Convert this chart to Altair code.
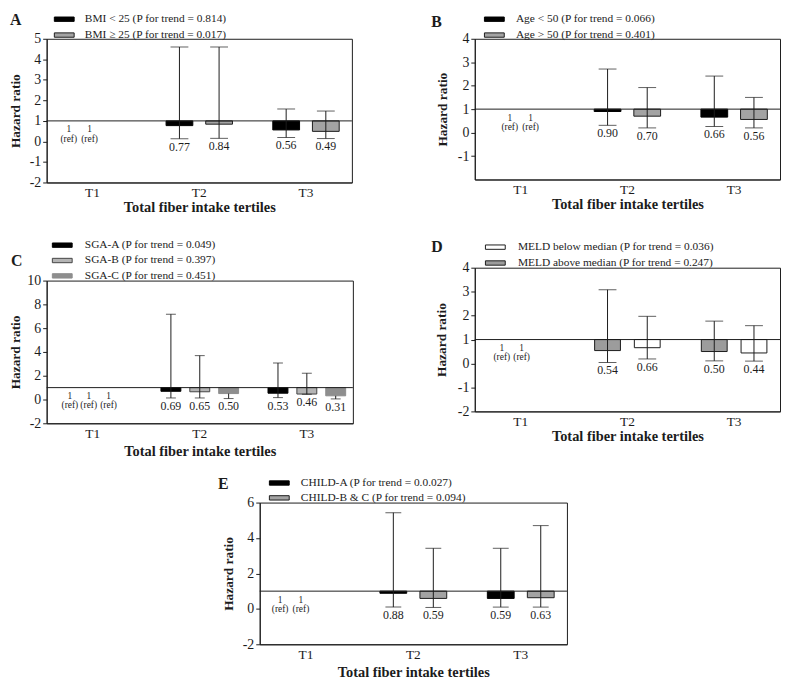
import altair as alt
import pandas as pd

TERTILES = ["T1", "T2", "T3"]

# ---------------- Panel A : BMI ----------------
A_series = ["BMI < 25 (P for trend = 0.814)", "BMI \u2265 25 (P for trend = 0.017)"]
A_hr_t2 = [0.77, 0.84]
A_hr_t3 = [0.56, 0.49]
A_lo_t2 = [0.13, 0.15]
A_lo_t3 = [0.19, 0.14]
A_hi_t2 = [4.60, 4.60]
A_hi_t3 = [1.58, 1.48]

# ---------------- Panel B : Age ----------------
B_series = ["Age < 50 (P for trend = 0.066)", "Age > 50 (P for trend = 0.401)"]
B_hr_t2 = [0.90, 0.70]
B_hr_t3 = [0.66, 0.56]
B_lo_t2 = [0.31, 0.20]
B_lo_t3 = [0.26, 0.20]
B_hi_t2 = [2.71, 1.92]
B_hi_t3 = [2.41, 1.50]

# ---------------- Panel C : SGA ----------------
C_series = ["SGA-A (P for trend = 0.049)", "SGA-B (P for trend = 0.397)", "SGA-C (P for trend = 0.451)"]
C_hr_t2 = [0.69, 0.65, 0.50]
C_hr_t3 = [0.53, 0.46, 0.31]
C_lo_t2 = [0.13, 0.13, 0.08]
C_lo_t3 = [0.16, 0.44, 0.05]
C_hi_t2 = [7.17, 3.69, 0.50]
C_hi_t3 = [3.07, 2.21, 0.31]

# ---------------- Panel D : MELD ----------------
D_series = ["MELD below median (P for trend = 0.036)", "MELD above median (P for trend = 0.247)"]
D_bar_order = ["MELD above median (P for trend = 0.247)", "MELD below median (P for trend = 0.036)"]
D_hr_t2 = [0.66, 0.54]
D_hr_t3 = [0.44, 0.50]
D_lo_t2 = [0.19, 0.04]
D_lo_t3 = [0.10, 0.11]
D_hi_t2 = [1.97, 3.08]
D_hi_t3 = [1.58, 1.77]

# ---------------- Panel E : CHILD ----------------
E_series = ["CHILD-A (P for trend = 0.0.027)", "CHILD-B & C (P for trend = 0.094)"]
E_hr_t2 = [0.88, 0.59]
E_hr_t3 = [0.59, 0.63]
E_lo_t2 = [0.10, 0.08]
E_lo_t3 = [0.10, 0.10]
E_hi_t2 = [5.43, 3.42]
E_hi_t3 = [3.42, 4.70]

FONT = "Liberation Serif"
INK = "#1c1c1c"
GRAY = "#a3a3a3"
SWATCH = "M-2,-0.44L2,-0.44L2,0.44L-2,0.44Z"
ONE = pd.DataFrame({"k": [0]})


def build_df(series, hr2, hr3, lo2, lo3, hi2, hi3):
    rows = []
    for i, s in enumerate(series):
        rows.append(dict(series=s, tertile="T2", hr=hr2[i], lo=lo2[i], hi=hi2[i]))
        rows.append(dict(series=s, tertile="T3", hr=hr3[i], lo=lo3[i], hi=hi3[i]))
    return pd.DataFrame(rows)


def panel(letter, series, bar_order, fills, strokes, data, ydom, yvals, lay):
    df = build_df(series, *data)
    w, h = lay["w"], lay["h"]
    x_scale = alt.Scale(domain=TERTILES, paddingInner=0.14, paddingOuter=0)
    x_axis = alt.Axis(title="Total fiber intake tertiles", labelAngle=0, ticks=False, tickSize=0,
                      labelPadding=3, labelFont=FONT, labelFontSize=13.5, labelColor=INK,
                      titleFont=FONT, titleFontSize=14.5, titleFontWeight="bold", titleColor=INK,
                      titleX=w / 2, titleY=lay["xt"], titleAlign="center", titleBaseline="middle",
                      domainColor=INK, grid=False)
    y_scale = alt.Scale(domain=ydom, nice=False, zero=False)
    y_axis = alt.Axis(values=yvals, title="Hazard ratio", tickSize=4, tickColor=INK, labelPadding=2,
                      labelFont=FONT, labelFontSize=14, labelColor=INK, labelExpr="'' + datum.value",
                      titleFont=FONT, titleFontSize=13.5, titleFontWeight="bold", titleColor=INK,
                      titleAngle=-90, titleX=lay["yt"], titleY=h / 2, titleAlign="center",
                      titleBaseline="middle", domainColor=INK, grid=False)

    def X():
        return alt.X("tertile:N", scale=x_scale, axis=x_axis)

    def XO():
        return alt.XOffset("series:N", scale=alt.Scale(domain=bar_order, paddingInner=lay["pi"],
                                                       paddingOuter=lay["po"]))

    def Y(field):
        return alt.Y(field, type="quantitative", scale=y_scale, axis=y_axis)

    legend = alt.Legend(title=None, orient="none", legendX=lay["lx"], legendY=lay["ly"],
                        direction="vertical", symbolType=SWATCH, symbolSize=100,
                        symbolStrokeWidth=1, symbolOpacity=1, labelFont=FONT, labelFontSize=11.5,
                        labelColor=INK, labelOffset=lay["lo"], labelLimit=400, rowPadding=lay["rp"],
                        padding=0)

    base = alt.Chart(df)
    bars = base.mark_bar(strokeWidth=1).encode(
        x=X(), xOffset=XO(), y=Y("hr"), y2=alt.datum(1),
        color=alt.Color("series:N", scale=alt.Scale(domain=series, range=fills), legend=legend),
        stroke=alt.Stroke("series:N", scale=alt.Scale(domain=series, range=strokes), legend=legend),
    )
    whisk = base.mark_rule(color=INK, strokeWidth=1).encode(x=X(), xOffset=XO(), y=Y("lo"), y2="hi")
    cap_lo = base.mark_tick(orient="horizontal", size=lay["cap"], thickness=1, color=INK).encode(
        x=X(), xOffset=XO(), y=Y("lo"))
    cap_hi = base.transform_filter("datum.hi > datum.hr").mark_tick(
        orient="horizontal", size=lay["cap"], thickness=1, color=INK).encode(
        x=X(), xOffset=XO(), y=Y("hi"))
    vals = base.mark_text(font=FONT, fontSize=12, color=INK, baseline="middle", dy=8).encode(
        x=X(), xOffset=XO(), y=Y("lo"), text=alt.Text("hr:Q", format=".2f"))
    refline = alt.Chart(ONE).mark_rule(color=INK, strokeWidth=1).encode(
        y=alt.YDatum(1, scale=y_scale, axis=y_axis))
    refs = []
    for i, s in enumerate(series):
        for txt, dy in (("1", 8.5), ("(ref)", 18)):
            refs.append(alt.Chart(ONE).mark_text(text=txt, font=FONT, fontSize=9.5, color=INK,
                                                 baseline="middle", dx=lay["rdx"][i], dy=dy).encode(
                x=alt.XDatum("T1", type="nominal", scale=x_scale, axis=x_axis),
                y=alt.YDatum(1, scale=y_scale, axis=y_axis)))
    let = alt.Chart(ONE).mark_text(text=letter, font=FONT, fontSize=16, fontWeight="bold", color=INK,
                                   align="left", baseline="middle").encode(
        x=alt.value(lay["ltx"]), y=alt.value(lay["lty"]))
    return alt.layer(bars, whisk, cap_lo, cap_hi, vals, refline, *refs, let).properties(width=w, height=h)


A = panel("A", A_series, A_series, ["#000000", GRAY], ["#000000", INK],
          (A_hr_t2, A_hr_t3, A_lo_t2, A_lo_t3, A_hi_t2, A_hi_t3), [-2, 5], [-2, -1, 0, 1, 2, 3, 4, 5],
          dict(w=308, h=145, yt=-31, xt=25, pi=0.325, po=0.32, cap=18, lx=12, ly=-25.5, lo=15, rp=3,
               ltx=-37, lty=-19, rdx=[-24, -3]))
B = panel("B", B_series, B_series, ["#000000", GRAY], ["#000000", INK],
          (B_hr_t2, B_hr_t3, B_lo_t2, B_lo_t3, B_hi_t2, B_hi_t3), [-2, 4], [-1, 0, 1, 2, 3, 4],
          dict(w=308, h=142, yt=-33, xt=25, pi=0.325, po=0.32, cap=18, lx=14, ly=-25.5, lo=16, rp=3,
               ltx=-44, lty=-17, rdx=[-11, 10]))
C = panel("C", C_series, C_series, ["#000000", "#b4b4b4", "#8e8e8e"], ["#000000", "#444444", "#8e8e8e"],
          (C_hr_t2, C_hr_t3, C_lo_t2, C_lo_t3, C_hi_t2, C_hi_t3), [-2, 10], [-2, 0, 2, 4, 6, 8, 10],
          dict(w=309, h=144, yt=-31, xt=28, pi=0.31, po=0.25, cap=10, lx=10, ly=-41.5, lo=17, rp=2.5,
               ltx=-36, lty=-20, rdx=[-23, -4, 16]))
D = panel("D", D_series, D_bar_order, ["#ffffff", "#9c9c9c"], [INK, INK],
          (D_hr_t2, D_hr_t3, D_lo_t2, D_lo_t3, D_hi_t2, D_hi_t3), [-2, 4], [-2, -1, 0, 1, 2, 3, 4],
          dict(w=308, h=145, yt=-34, xt=25, pi=0.35, po=0.33, cap=18, lx=15, ly=-26.5, lo=17, rp=3,
               ltx=-44, lty=-21, rdx=[-19, 1]))
E = panel("E", E_series, E_series, ["#000000", GRAY], ["#000000", INK],
          (E_hr_t2, E_hr_t3, E_lo_t2, E_lo_t3, E_hi_t2, E_hi_t3), [-2, 6], [-2, 0, 2, 4, 6],
          dict(w=310, h=143, yt=-31, xt=29, pi=0.33, po=0.32, cap=16, lx=14, ly=-25.5, lo=16, rp=2,
               ltx=-42, lty=-19, rdx=[-26, -5]))

IND = dict(color="independent", stroke="independent", xOffset="independent")
col1 = alt.vconcat(A, C, spacing=25).resolve_scale(**IND)
col2 = alt.vconcat(B, D, spacing=27).resolve_scale(**IND)
top = alt.hconcat(col1, col2, spacing=77).resolve_scale(**IND)

chart = (
    alt.vconcat(top, E, spacing=17, center=True)
    .resolve_scale(**IND)
    .configure_view(stroke=INK, strokeWidth=1)
    .properties(padding=0, background="white")
)

chart.save("out.html", embed_options={"renderer": "svg", "actions": False})
